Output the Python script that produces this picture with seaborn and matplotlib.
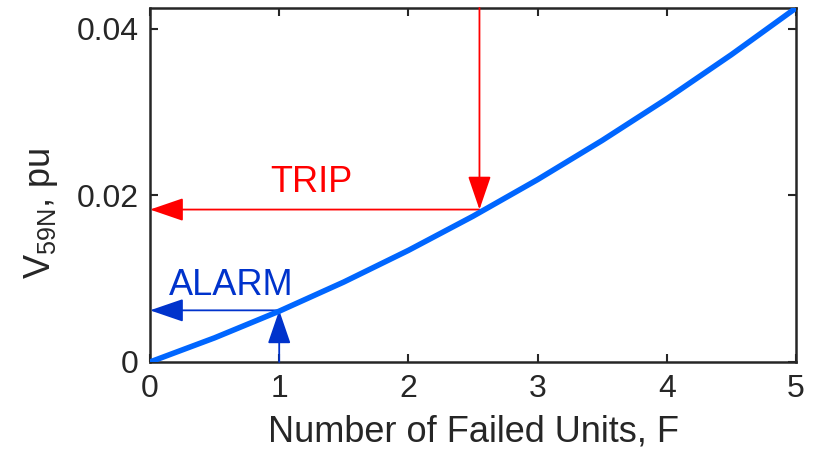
import matplotlib
matplotlib.use("Agg")
import matplotlib.pyplot as plt
import seaborn as sns
import pandas as pd

# Neutral voltage vs. number of failed units
failed_units = [0.0, 0.5, 1.0, 1.5, 2.0, 2.5, 3.0, 3.5, 4.0, 4.5, 5.0]
v59n = [0.0, 0.0029, 0.0061, 0.0096, 0.0134, 0.0175, 0.0219, 0.0266, 0.0316, 0.0369, 0.0425]

# Setting points
alarm_f, alarm_v = 1.0, 0.0062
trip_f, trip_v = 2.55, 0.0183

x_ticks = [0, 1, 2, 3, 4, 5]
y_ticks = [0, 0.02, 0.04]
y_tick_labels = ["0", "0.02", "0.04"]

sns.set_theme(style="ticks")
plt.rcParams["font.family"] = ["Liberation Sans", "DejaVu Sans"]
plt.rcParams["mathtext.default"] = "regular"

fig = plt.figure(figsize=(8.17, 4.49), dpi=100)
ax = fig.add_axes([0.1836, 0.1938, 0.7907, 0.7884])

df = pd.DataFrame({"F": failed_units, "V": v59n})
sns.lineplot(data=df, x="F", y="V", ax=ax, color="#0066FF", linewidth=4.0,
             solid_capstyle="round", solid_joinstyle="round", zorder=5)

ymax = 0.0425
ax.set_xlim(0, 5)
ax.set_ylim(0, ymax)

red = "#FF0000"
blue = "#0033CC"
head = dict(arrowstyle="-|>,head_length=1.75,head_width=0.6", lw=1.3, shrinkA=0, shrinkB=0)

# TRIP: down from the top to the curve, then left to the axis
ax.annotate("", xy=(trip_f, trip_v), xytext=(trip_f, ymax),
            arrowprops=dict(color=red, **head), zorder=4)
ax.annotate("", xy=(0, trip_v), xytext=(trip_f, trip_v),
            arrowprops=dict(color=red, **head), zorder=4, annotation_clip=False)
ax.text(1.246, 0.0204, "TRIP", color=red, fontsize=26, ha="center", va="baseline")

# ALARM: up from the axis to the curve, then left to the axis
ax.annotate("", xy=(alarm_f, alarm_v), xytext=(alarm_f, 0),
            arrowprops=dict(color=blue, **head), zorder=4)
ax.annotate("", xy=(0, alarm_v), xytext=(alarm_f, alarm_v),
            arrowprops=dict(color=blue, **head), zorder=4, annotation_clip=False)
ax.text(0.627, 0.0080, "ALARM", color=blue, fontsize=26, ha="center", va="baseline")

ax.set_xticks(x_ticks)
ax.set_xticklabels([str(t) for t in x_ticks])
ax.set_yticks(y_ticks)
ax.set_yticklabels(y_tick_labels)
ax.tick_params(direction="in", length=6, width=1.5, top=True, right=True,
               labelsize=23, colors="#262626")
ax.tick_params(axis="x", pad=9)
ax.tick_params(axis="y", pad=8)
for s in ax.spines.values():
    s.set_visible(True)
    s.set_linewidth(1.8)
    s.set_color("#262626")

ax.set_xlabel("Number of Failed Units, F", fontsize=26, color="#262626", labelpad=7)
ax.set_ylabel("V$_{59N}$, pu", fontsize=26, color="#262626")
ax.yaxis.set_label_coords(-0.139, 0.421)

fig.savefig("out.png", dpi=100)
